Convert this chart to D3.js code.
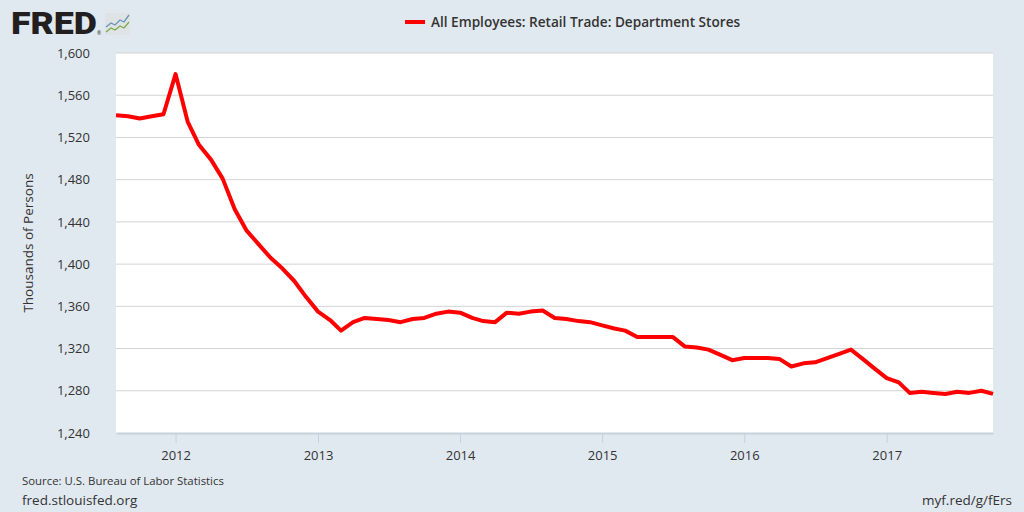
<!DOCTYPE html>
<html>
<head>
<meta charset="utf-8">
<script src="https://cdn.jsdelivr.net/npm/d3@7"></script>
<style>
  body { margin: 0; background: #e1e9f0; }
  svg { display: block; font-family: "Open Sans", "Noto Sans", sans-serif; }
</style>
</head>
<body>
<div class="chart"></div>
<script>
const months = [
  "2011-08","2011-09","2011-10","2011-11","2011-12",
  "2012-01","2012-02","2012-03","2012-04","2012-05","2012-06","2012-07","2012-08","2012-09","2012-10","2012-11","2012-12",
  "2013-01","2013-02","2013-03","2013-04","2013-05","2013-06","2013-07","2013-08","2013-09","2013-10","2013-11","2013-12",
  "2014-01","2014-02","2014-03","2014-04","2014-05","2014-06","2014-07","2014-08","2014-09","2014-10","2014-11","2014-12",
  "2015-01","2015-02","2015-03","2015-04","2015-05","2015-06","2015-07","2015-08","2015-09","2015-10","2015-11","2015-12",
  "2016-01","2016-02","2016-03","2016-04","2016-05","2016-06","2016-07","2016-08","2016-09","2016-10","2016-11","2016-12",
  "2017-01","2017-02","2017-03","2017-04","2017-05","2017-06","2017-07","2017-08","2017-09","2017-10"
];
const employees = [
  1541, 1540, 1538, 1540, 1542,
  1580, 1535, 1513, 1499, 1481, 1452, 1432, 1419, 1406, 1396, 1384, 1369,
  1355, 1347, 1337, 1345, 1349, 1348, 1347, 1345, 1348, 1349, 1353, 1355,
  1354, 1349, 1346, 1345, 1354, 1353, 1355, 1356, 1349, 1348, 1346, 1345,
  1342, 1339, 1337, 1331, 1331, 1331, 1331, 1322, 1321, 1319, 1314, 1309,
  1311, 1311, 1311, 1310, 1303, 1306, 1307, 1311, 1315, 1319, 1310, 1301,
  1292, 1288, 1278, 1279, 1278, 1277, 1279, 1278, 1280, 1277
];
const yTicks = [1240, 1280, 1320, 1360, 1400, 1440, 1480, 1520, 1560, 1600];
const xTickYears = ["2012", "2013", "2014", "2015", "2016", "2017"];
const seriesName = "All Employees: Retail Trade: Department Stores";

const W = 1024, H = 512;
const margin = { top: 53, left: 116, right: 31, bottom: 79 };
const width = W - margin.left - margin.right;
const height = H - margin.top - margin.bottom;

const parse = d3.timeParse("%Y-%m");
const data = months.map((m, i) => ({ date: parse(m), value: employees[i] }));

const svg = d3.select(".chart").append("svg")
  .attr("width", W)
  .attr("height", H);

// FRED logo
svg.append("text")
  .attr("x", 11).attr("y", 34)
  .attr("font-family", "Roboto, sans-serif")
  .attr("font-size", 31).attr("font-weight", 900)
  .attr("fill", "#231f20")
  .attr("textLength", 86).attr("lengthAdjust", "spacingAndGlyphs")
  .text("FRED");
svg.append("text")
  .attr("x", 97).attr("y", 35)
  .attr("font-size", 5).attr("fill", "#231f20")
  .text("®");
const icon = svg.append("g").attr("transform", "translate(105,13)");
icon.append("rect").attr("width", 25).attr("height", 22).attr("fill", "#dfe3e6");
icon.append("polyline").attr("points", "1,14 6,10 10,12 15,7 19,9 24,2")
  .attr("fill", "none").attr("stroke", "#6a93b8").attr("stroke-width", 1.3);
icon.append("polyline").attr("points", "1,19 6,15 10,17 15,13 19,15 24,9")
  .attr("fill", "none").attr("stroke", "#7fa84a").attr("stroke-width", 1.3);

// legend
svg.append("line")
  .attr("x1", 405).attr("x2", 425).attr("y1", 22).attr("y2", 22)
  .attr("stroke", "#ff0000").attr("stroke-width", 4);
svg.append("text")
  .attr("x", 431).attr("y", 27)
  .attr("font-size", 13.6).attr("font-weight", 600).attr("fill", "#333")
  .text(seriesName);

const g = svg.append("g")
  .attr("transform", `translate(${margin.left},${margin.top})`);

const x = d3.scaleTime()
  .domain([data[0].date, data[data.length - 1].date])
  .range([0, width]);
const y = d3.scaleLinear()
  .domain([1240, 1600])
  .range([height, 0]);

g.append("rect")
  .attr("width", width).attr("height", height)
  .attr("fill", "#ffffff");

// gridlines
g.append("g")
  .selectAll("line")
  .data(yTicks.slice(1))
  .join("line")
  .attr("x1", 0).attr("x2", width)
  .attr("y1", d => y(d)).attr("y2", d => y(d))
  .attr("stroke", "#d3d3d3").attr("stroke-width", 1);

// y axis labels
g.append("g")
  .attr("class", "axis y-axis")
  .call(d3.axisLeft(y).tickValues(yTicks).tickSize(0).tickPadding(26).tickFormat(d3.format(",")))
  .call(a => a.select(".domain").remove())
  .call(a => a.selectAll("text").attr("font-size", 13).attr("fill", "#333").attr("font-family", "'Open Sans', sans-serif"));

// x axis
const xAxis = g.append("g")
  .attr("class", "axis x-axis")
  .attr("transform", `translate(0,${height})`)
  .call(d3.axisBottom(x)
    .tickValues(xTickYears.map(d => d3.timeParse("%Y")(d)))
    .tickSize(10).tickSizeOuter(0).tickPadding(8)
    .tickFormat(d3.timeFormat("%Y")));
xAxis.select(".domain").attr("stroke", "#c5d1dc").attr("stroke-width", 2);
xAxis.selectAll(".tick line").attr("stroke", "#c5d1dc");
xAxis.selectAll("text").attr("font-size", 13).attr("fill", "#333").attr("font-family", "'Open Sans', sans-serif");

// y axis title
svg.append("text")
  .attr("transform", `translate(33,243) rotate(-90)`)
  .attr("text-anchor", "middle")
  .attr("font-size", 13.5).attr("fill", "#333")
  .text("Thousands of Persons");

// series
const line = d3.line().x(d => x(d.date)).y(d => y(d.value));
g.append("path")
  .datum(data)
  .attr("fill", "none")
  .attr("stroke", "#ff0000")
  .attr("stroke-width", 4)
  .attr("stroke-linejoin", "round")
  .attr("d", line);

// footer
svg.append("text")
  .attr("x", 22).attr("y", 485)
  .attr("font-size", 11.4).attr("fill", "#333")
  .text("Source: U.S. Bureau of Labor Statistics");
svg.append("text")
  .attr("x", 22).attr("y", 505)
  .attr("font-size", 13.5).attr("fill", "#333")
  .text("fred.stlouisfed.org");
svg.append("text")
  .attr("x", 1012).attr("y", 505)
  .attr("text-anchor", "end")
  .attr("font-size", 13.5).attr("fill", "#333")
  .text("myf.red/g/fErs");
</script>
</body>
</html>
